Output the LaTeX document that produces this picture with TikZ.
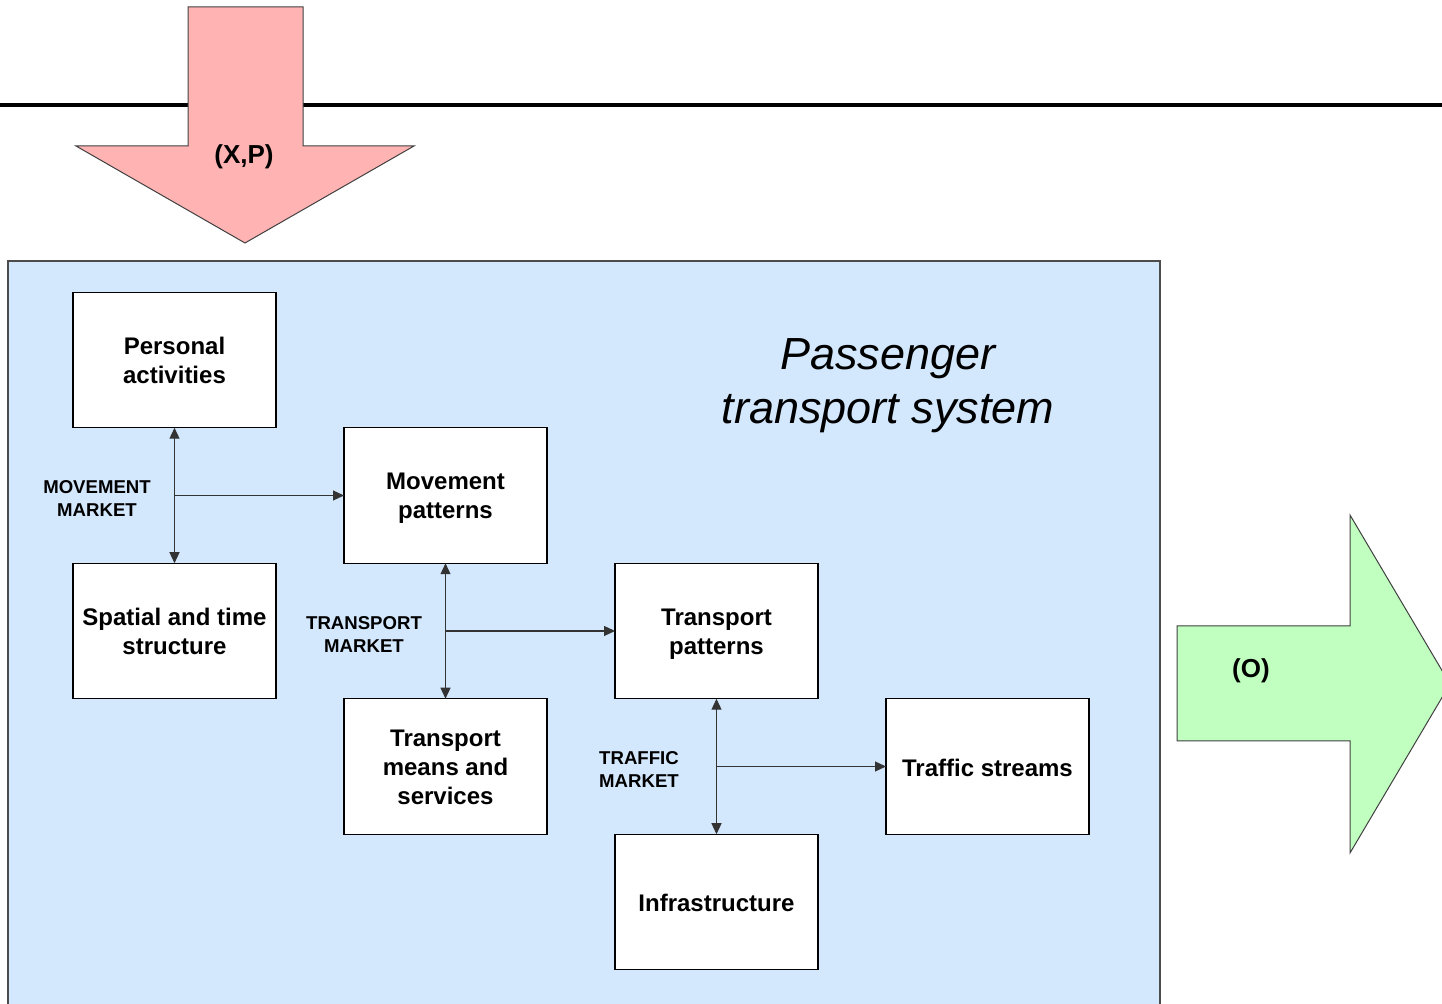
\documentclass[tikz,border=0pt]{standalone}
\usepackage{fontspec}
\setmainfont{Liberation Sans}
\usetikzlibrary{arrows.meta,calc}

\definecolor{sysblue}{HTML}{D4E8FD}
\definecolor{inpink}{HTML}{FFB3B3}
\definecolor{outgreen}{HTML}{C0FFC0}
\definecolor{linegray}{HTML}{333333}

\tikzset{
  block/.style={draw=black, line width=0.6pt, fill=white, outer sep=0pt,
    minimum width=101.5pt, minimum height=67.75pt},
  blocktext/.style={font=\fontsize{12}{14.5}\selectfont\bfseries, align=center,
    inner sep=0pt},
  marketlabel/.style={align=center, inner sep=0pt,
    font=\fontsize{9.3}{11.5}\selectfont\bfseries},
  link/.style={draw=linegray, line width=0.6pt,
    -{Triangle[length=5.5pt,width=5pt]}},
  duplex/.style={draw=linegray, line width=0.6pt,
    {Triangle[length=5.5pt,width=5pt]}-{Triangle[length=5.5pt,width=5pt]}},
  bigarrow/.style={draw=black!75, line width=0.5pt},
  arrowtext/.style={font=\fontsize{13}{15}\selectfont\bfseries, inner sep=0pt}
}

\begin{document}
\begin{tikzpicture}[x=0.5pt, y=-0.5pt]
  \useasboundingbox (0,0) rectangle (1442,1004);
  \clip (0,0) rectangle (1442,1004);

  % environment boundary line
  \draw[line width=2.2pt] (0,105) -- (1442,105);

  % input arrow
  \draw[bigarrow, fill=inpink]
    (188,7) -- (303,7) -- (303,146) -- (414,146) -- (245,243)
    -- (76,146) -- (188,146) -- cycle;
  \node[arrowtext] (xp) at (244,157) {(X,P)};

  % system area
  \draw[draw=black!70, line width=0.8pt, fill=sysblue] (8,1020) -- (8,261) -- (1160,261) -- (1160,1020);

  % output arrow
  \draw[bigarrow, fill=outgreen]
    (1177,626) -- (1350,626) -- (1350,515) -- (1450,684)
    -- (1350,853) -- (1350,741) -- (1177,741) -- cycle;
  \node[arrowtext] (o) at (1251,671) {(O)};

  % title
  \node[align=center, font=\fontsize{22.5}{27}\selectfont\itshape] (title) at (888,386)
    {Passenger\\transport system};

  % blocks (frame and text placed separately)
  \node[block] (pa)  at (174.5,360)   {};
  \node[block] (st)  at (174.5,631)   {};
  \node[block] (mp)  at (445.5,495.5) {};
  \node[block] (tm)  at (445.5,766.5) {};
  \node[block] (tp)  at (716.5,631)   {};
  \node[block] (ts)  at (987.5,766.5) {};
  \node[block] (inf) at (716.5,902)   {};
  \node[blocktext] (pa-t)  at (pa.center)                 {Personal\\activities};
  \node[blocktext] (st-t)  at (st.center)                 {Spatial and time\\structure};
  \node[blocktext] (mp-t)  at ([yshift=-1.5pt]mp.center)  {Movement\\patterns};
  \node[blocktext] (tm-t)  at ([yshift=-0.5pt]tm.center)  {Transport\\means and\\services};
  \node[blocktext] (tp-t)  at ([yshift=-1.5pt]tp.center)  {Transport\\patterns};
  \node[blocktext] (ts-t)  at ([yshift=-0.5pt]ts.center)  {Traffic streams};
  \node[blocktext] (inf-t) at ([yshift=-0.5pt]inf.center) {Infrastructure};

  % markets
  \draw[duplex] (pa.south) -- (st.north);
  \coordinate (mm) at ($(pa.south)!0.5!(st.north)$);
  \draw[link] (mm) -- (mm -| mp.west);
  \node[marketlabel] (mmlab) at (97,499) {MOVEMENT\\MARKET};

  \draw[duplex] (mp.south) -- (tm.north);
  \coordinate (tmk) at ($(mp.south)!0.5!(tm.north)$);
  \draw[link] (tmk) -- (tmk -| tp.west);
  \node[marketlabel] (tmlab) at (364,634.5) {TRANSPORT\\MARKET};

  \draw[duplex] (tp.south) -- (inf.north);
  \coordinate (trk) at ($(tp.south)!0.5!(inf.north)$);
  \draw[link] (trk) -- (trk -| ts.west);
  \node[marketlabel] (trlab) at (639,769.5) {TRAFFIC\\MARKET};
\end{tikzpicture}
\end{document}
